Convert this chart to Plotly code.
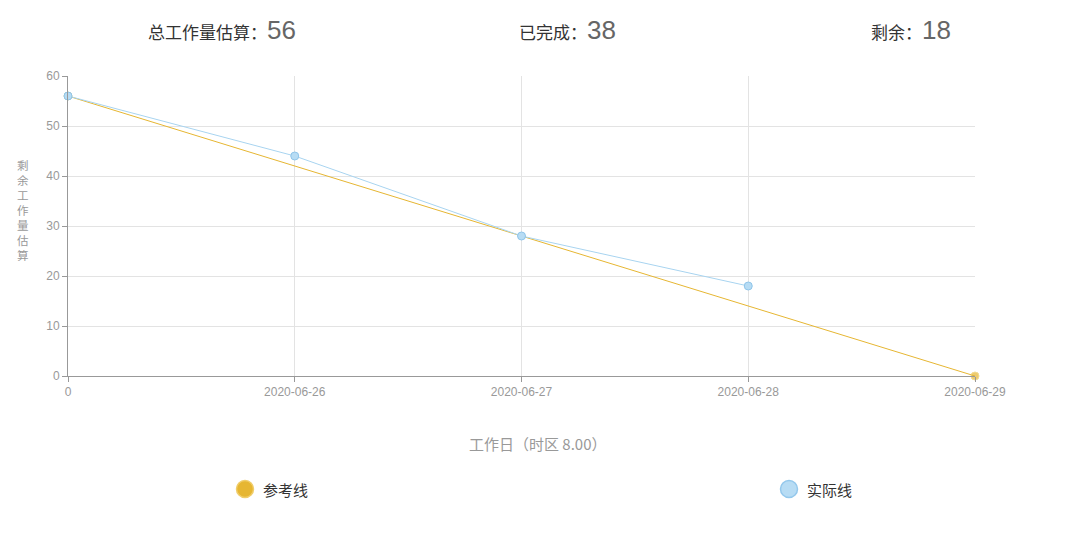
import plotly.graph_objects as go

categories = ["0", "2020-06-26", "2020-06-27", "2020-06-28", "2020-06-29"]
reference_values = [56, 42, 28, 14, 0]
actual_categories = ["0", "2020-06-26", "2020-06-27", "2020-06-28"]
actual_values = [56, 44, 28, 18]
y_ticks = [0, 10, 20, 30, 40, 50, 60]

total_est, done, remaining = 56, 38, 18

W, H = 1084, 539
OFF = 8  # page body margin
L, R, T, B = 68 - OFF, 975 - OFF, 76 - OFF, 376 - OFF

def px(x):
    return (x - OFF - L) / (R - L)

def py(y):
    return (B - (y - OFF)) / (B - T)

YELLOW = "#E6B632"
BLUE_LINE = "#A8D4F0"
CJK = "Noto Sans CJK SC"

fig = go.Figure()
ref_sizes = [8 if i in (0, len(categories) - 1) else 0 for i in range(len(categories))]
fig.add_trace(go.Scatter(
    x=categories, y=reference_values, mode="lines+markers",
    line=dict(color=YELLOW, width=1), cliponaxis=False,
    marker=dict(size=ref_sizes, color=YELLOW, line=dict(color="#EDCB62", width=1)),
    showlegend=False, hoverinfo="skip"))
fig.add_trace(go.Scatter(
    x=actual_categories, y=actual_values, mode="lines+markers",
    line=dict(color=BLUE_LINE, width=1), cliponaxis=False,
    marker=dict(size=8, color="#B7DCF4", line=dict(color="#8FC5EA", width=1)),
    showlegend=False, hoverinfo="skip"))

fig.update_xaxes(
    type="category", categoryorder="array", categoryarray=categories,
    range=[0, len(categories) - 1],
    showgrid=True, gridcolor="#E3E3E3", gridwidth=1,
    showline=True, linecolor="#999999", linewidth=1,
    ticks="outside", ticklen=5, tickcolor="#999999",
    tickfont=dict(family="Liberation Sans, Arial", size=12, color="#999999"),
    zeroline=False, fixedrange=True)
fig.update_yaxes(
    range=[0, 60], tickvals=y_ticks,
    showgrid=True, gridcolor="#E3E3E3", gridwidth=1,
    showline=True, linecolor="#999999", linewidth=1,
    ticks="outside", ticklen=5, tickcolor="#999999",
    tickfont=dict(family="Liberation Sans, Arial", size=12, color="#999999"),
    zeroline=False, fixedrange=True)

annotations = []

def stat(label, value, cx):
    annotations.append(dict(
        xref="paper", yref="paper", x=px(cx), y=py(30), xanchor="center", yanchor="middle",
        showarrow=False,
        text=f"<span style='font-family:\"{CJK}\";font-size:17px;color:#333333'>{label}：</span>"
             f"<span style='font-family:\"Liberation Sans\",Arial;font-size:26px;color:#666666'>{value}</span>"))

stat("总工作量估算", total_est, 222)
stat("已完成", done, 567)
stat("剩余", remaining, 911)

annotations.append(dict(
    xref="paper", yref="paper", x=px(538), y=py(443), xanchor="center", yanchor="middle",
    showarrow=False, text="工作日（时区 8.00）",
    font=dict(family=CJK + ", Liberation Sans", size=15, color="#999999")))

annotations.append(dict(
    xref="paper", yref="paper", x=px(23), y=py(210), xanchor="center", yanchor="middle",
    showarrow=False, text="<br>".join(list("剩余工作量估算")),
    font=dict(family=CJK, size=11.5, color="#999999")))

shapes = []

def legend_item(cx, fill, edge, label):
    r = 8.5
    shapes.append(dict(type="circle", xref="paper", yref="paper",
                       x0=px(cx - r), x1=px(cx + r), y0=py(489 + r), y1=py(489 - r),
                       fillcolor=fill, line=dict(color=edge, width=1.5)))
    annotations.append(dict(
        xref="paper", yref="paper", x=px(cx + 16), y=py(489), xanchor="left", yanchor="middle",
        showarrow=False, text=label, font=dict(family=CJK, size=15, color="#333333")))

legend_item(245, "#E6B632", "#F0CD6A", "参考线")
legend_item(789, "#B7DCF4", "#94C8EC", "实际线")

fig.update_layout(
    width=W, height=H,
    margin=dict(l=L, r=W - R, t=T, b=H - B),
    paper_bgcolor="white", plot_bgcolor="white",
    annotations=annotations, shapes=shapes,
    showlegend=False)

fig.write_html("out.html", config={"displayModeBar": False})
